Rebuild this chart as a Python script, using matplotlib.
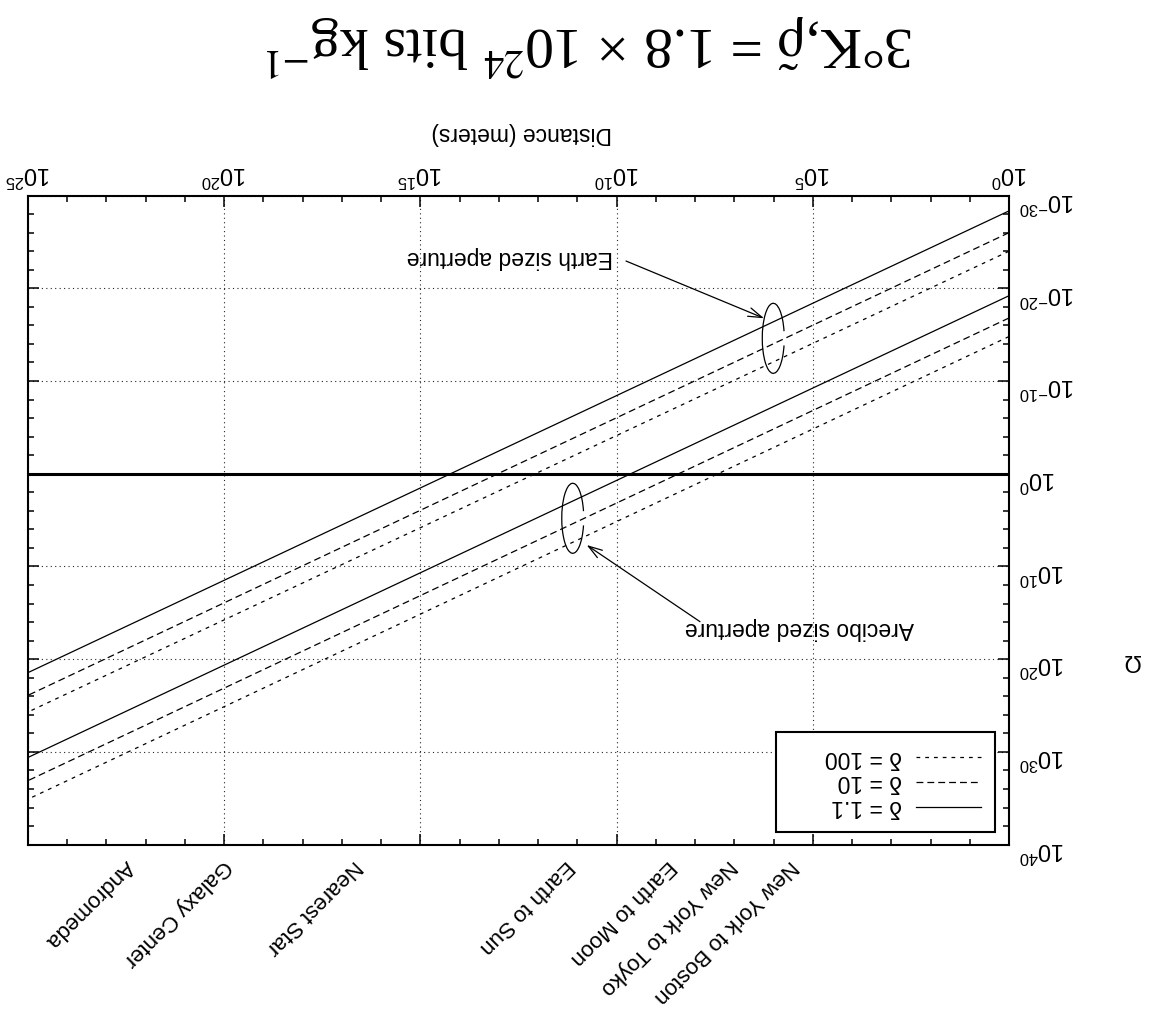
import numpy as np
import matplotlib
matplotlib.use("Agg")
import matplotlib.pyplot as plt
import matplotlib.transforms as mtransforms
from matplotlib.patches import Arc, Rectangle
from matplotlib.lines import Line2D

plt.rcParams['font.family'] = ['Liberation Sans', 'DejaVu Sans']
plt.rcParams['mathtext.fontset'] = 'custom'
plt.rcParams['mathtext.rm'] = 'Liberation Sans'
plt.rcParams['mathtext.it'] = 'Liberation Sans:italic'
plt.rcParams['mathtext.bf'] = 'Liberation Sans:bold'

# --- data ---
# distance range of the lines (meters), log10(Omega) at both ends
distance_ends = [1e0, 1e25]
earth_d11 = [-28.35, 21.45]
earth_d10 = [-26.0, 23.9]
earth_d100 = [-24.0, 25.7]
arecibo_d11 = [-19.2, 30.6]
arecibo_d10 = [-16.8, 33.1]
arecibo_d100 = [-14.8, 35.1]
delta_labels = ['δ = 1.1', 'δ = 10', 'δ = 100']

landmark_names = ['Andromeda', 'Galaxy Center', 'Nearest Star', 'Earth to Sun',
                  'Earth to Moon', 'New York to Toyko', 'New York to Boston']
landmark_dist = [2.5e22, 8e19, 4e16, 1.5e11, 3.84e8, 1.08e7, 3.1e5]

x_major = [1e0, 1e5, 1e10, 1e15, 1e20, 1e25]
x_major_labels = ['$10^{0}$', '$10^{5}$', '$10^{10}$', '$10^{15}$', '$10^{20}$', '$10^{25}$']
y_major = [1e-30, 1e-20, 1e-10, 1e0, 1e10, 1e20, 1e30, 1e40]
y_major_labels = ['$10^{-30}$', '$10^{-20}$', '$10^{-10}$', '$10^{0}$',
                  '$10^{10}$', '$10^{20}$', '$10^{30}$', '$10^{40}$']

W, H = 1175, 1021
fig = plt.figure(figsize=(W / 100, H / 100), dpi=100)
# whole picture is turned upside down: axes limits reversed, text rotated 180
ax = fig.add_axes([28 / W, 1 - 844.6 / H, 981 / W, 649 / H])
ax.set_xscale('log')
ax.set_yscale('log')
ax.set_xlim(1e25, 1e0)
ax.set_ylim(1e40, 1e-30)

solid = '-'
dashed = (0, (5.5, 3.2))
dotted = (0, (3.0, 4.0))
styles = [solid, dashed, dotted]
for vals, ls in zip([earth_d11, earth_d10, earth_d100], styles):
    ax.plot(distance_ends, 10.0 ** np.array(vals), color='black', lw=0.9, ls=ls)
for vals, ls in zip([arecibo_d11, arecibo_d10, arecibo_d100], styles):
    ax.plot(distance_ends, 10.0 ** np.array(vals), color='black', lw=0.9, ls=ls)
ax.axhline(1.0, color='black', lw=2.2)

# ticks
ax.set_xticks(x_major)
ax.set_xticks([10.0 ** k for k in range(0, 26) if k % 5], minor=True)
ax.set_yticks(y_major)
ax.set_yticks([10.0 ** k for k in range(-30, 41, 2) if k % 10], minor=True)
ax.xaxis.set_minor_formatter(plt.NullFormatter())
ax.yaxis.set_minor_formatter(plt.NullFormatter())
ax.set_xticklabels(x_major_labels, rotation=180, fontsize=17)
ax.set_yticklabels(y_major_labels, rotation=180, fontsize=17, va='center')
ax.tick_params(which='both', direction='in', top=True, bottom=True, left=True, right=True,
               labeltop=True, labelbottom=False, labelright=True, labelleft=False,
               width=1.1, color='black')
ax.tick_params(which='major', length=8, pad=7)
ax.tick_params(which='minor', length=4.5)
# the raised exponent sits below the "10" once turned over: nudge labels down
shift = mtransforms.ScaledTranslation(0, -5 / 100, fig.dpi_scale_trans)
for t in ax.yaxis.get_major_ticks():
    t.label2.set_transform(t.label2.get_transform() + shift)
for s in ax.spines.values():
    s.set_linewidth(1.5)
ax.grid(which='major', color='0.15', lw=0.8, ls=(0, (1, 3)))

# landmark labels along the (now lower) edge
base = mtransforms.blended_transform_factory(ax.transData, ax.transAxes)
for name, d in zip(landmark_names, landmark_dist):
    tr = mtransforms.offset_copy(base, fig=fig, x=-4, y=-14, units='dots')
    ax.text(d, 0, name, transform=tr, rotation=225, rotation_mode='anchor',
            ha='left', va='baseline', fontsize=16)

# annotations
ax.text(0.4913, 0.9039, 'Earth sized aperture', transform=ax.transAxes,
        rotation=180, ha='center', va='center', fontsize=16.5)
ax.annotate('', xy=(0.7503, 0.8110), xytext=(0.6096, 0.8992),
            xycoords='axes fraction', textcoords='axes fraction',
            arrowprops=dict(arrowstyle='->,head_length=0.5,head_width=0.16',
                            mutation_scale=20, color='black', lw=0.9,
                            shrinkA=0, shrinkB=0))
ax.add_patch(Arc((0.7597, 0.7801), 0.0224, 0.1079, theta1=45, theta2=315,
                 transform=ax.transAxes, color='black', lw=0.9))

ax.text(0.7859, 0.3337, 'Arecibo sized aperture', transform=ax.transAxes,
        rotation=180, ha='center', va='center', fontsize=16.5)
ax.annotate('', xy=(0.5695, 0.4616), xytext=(0.685, 0.3435),
            xycoords='axes fraction', textcoords='axes fraction',
            arrowprops=dict(arrowstyle='->,head_length=0.5,head_width=0.16',
                            mutation_scale=20, color='black', lw=0.9,
                            shrinkA=0, shrinkB=0))
ax.add_patch(Arc((0.5553, 0.5028), 0.0224, 0.1079, theta1=45, theta2=315,
                 transform=ax.transAxes, color='black', lw=0.9))

# legend box (drawn by hand, upside down)
ax.add_patch(Rectangle((0.7622, 0.0194), 0.2238, 0.1536, transform=ax.transAxes,
                       facecolor='white', edgecolor='black', lw=1.5, zorder=5))
rows = [0.0584, 0.0969, 0.1345]
for lab, ls, yy in zip(delta_labels, styles, rows):
    ax.add_line(Line2D([0.9049, 0.9715], [yy, yy], transform=ax.transAxes,
                       color='black', lw=0.9, ls=ls, zorder=6))
    ax.text(0.8906, yy, lab, transform=ax.transAxes, rotation=180,
            ha='right', va='center', fontsize=16.5, zorder=6)

# axis titles and figure title
fig.text(0.4438, 0.8688, 'Distance (meters)', rotation=180, ha='center', va='center',
         fontsize=16.5)
fig.text(0.9625, 0.3536, 'Ω', rotation=180, ha='center', va='center', fontsize=17)
fig.text(0.502, 0.956, r'3°K,$\tilde{\mathrm{\rho}}$ = 1.8 × 10$^{24}$ bits kg$^{-1}$',
         rotation=180, ha='center', va='center', fontsize=41.5,
         family=['Liberation Serif', 'DejaVu Serif'], math_fontfamily='stix')

fig.savefig('out.png', dpi=100)
